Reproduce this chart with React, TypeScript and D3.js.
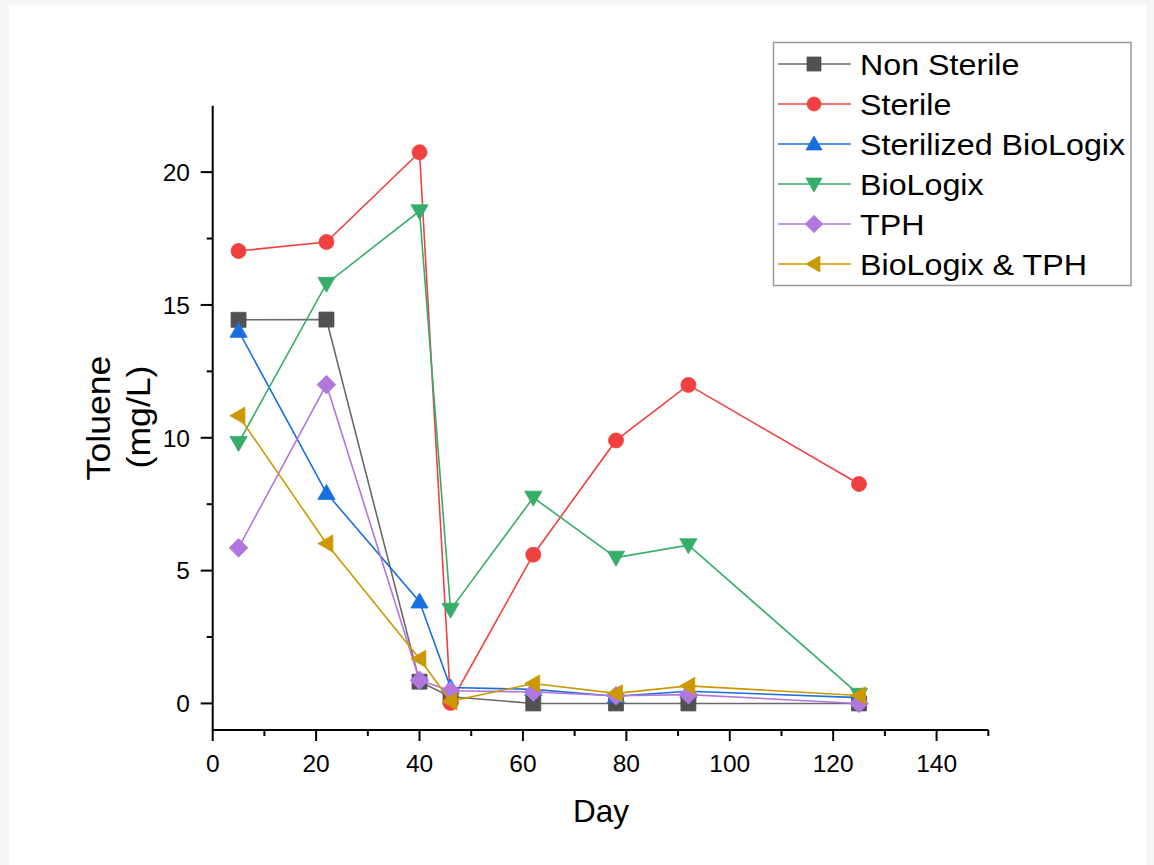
import React, { useEffect, useRef } from "react";
import * as d3 from "d3";

const days = [5, 22, 40, 46, 62, 78, 92, 125];
const seriesNames = ["Non Sterile", "Sterile", "Sterilized BioLogix", "BioLogix", "TPH", "BioLogix & TPH"];
const nonSterile = [14.44, 14.45, 0.82, 0.25, 0, 0, 0, 0];
const sterile = [17.03, 17.37, 20.75, 0.02, 5.6, 9.9, 11.99, 8.26];
const sterilizedBioLogix = [14.02, 7.92, 3.83, 0.6, 0.53, 0.27, 0.46, 0.22];
const bioLogix = [9.81, 15.8, 18.53, 3.53, 7.75, 5.49, 5.96, 0.33];
const tph = [5.86, 12.0, 0.87, 0.48, 0.43, 0.29, 0.33, 0.0];
const bioLogixTph = [10.83, 6.02, 1.68, 0.08, 0.75, 0.38, 0.66, 0.3];
const seriesValues = [nonSterile, sterile, sterilizedBioLogix, bioLogix, tph, bioLogixTph];
const colors = ["#515151", "#F14040", "#1A6FDF", "#37AD6B", "#B177DE", "#CC9900"];
const lineColors = ["#6a6a6a", "#F14040", "#1A6FDF", "#37AD6B", "#B177DE", "#CC9900"];
const shapes = ["square", "circle", "up", "down", "diamond", "left"];
const xTicks = [0, 20, 40, 60, 80, 100, 120, 140];
const yTicks = [0, 5, 10, 15, 20];

const FONT = "'Liberation Sans', Arial, sans-serif";

function markerPath(shape: string, s: number): string {
  switch (shape) {
    case "square":
      return `M${-s},${-s}L${s},${-s}L${s},${s}L${-s},${s}Z`;
    case "circle":
      return `M${-s},0A${s},${s},0,1,1,${s},0A${s},${s},0,1,1,${-s},0Z`;
    case "up":
      return `M0,${-s * 1.15}L${s * 1.15},${s * 0.85}L${-s * 1.15},${s * 0.85}Z`;
    case "down":
      return `M0,${s * 1.15}L${s * 1.15},${-s * 0.85}L${-s * 1.15},${-s * 0.85}Z`;
    case "left":
      return `M${-s * 1.15},0L${s * 0.85},${-s * 1.15}L${s * 0.85},${s * 1.15}Z`;
    case "diamond":
      return `M0,${-s * 1.25}L${s * 1.25},0L0,${s * 1.25}L${-s * 1.25},0Z`;
  }
  return "";
}

export default function App() {
  const ref = useRef<SVGSVGElement>(null);
  useEffect(() => {
    const svg = d3.select(ref.current);
    svg.selectAll("*").remove();
    const W = 1154, H = 865;
    svg.append("rect").attr("width", W).attr("height", H).attr("fill", "#f5f6f8");
    svg.append("rect").attr("x", 9).attr("y", 5).attr("width", 1137).attr("height", H).attr("fill", "#ffffff");

    const x = d3.scaleLinear().domain([0, 150]).range([212.7, 988.3]);
    const y = d3.scaleLinear().domain([-1, 22.5]).range([730, 105.7]);

    // axes
    const g = svg.append("g");
    g.append("line").attr("x1", x(0)).attr("x2", x(150)).attr("y1", y(-1)).attr("y2", y(-1))
      .attr("stroke", "#000").attr("stroke-width", 2);
    g.append("line").attr("x1", x(0)).attr("x2", x(0)).attr("y1", y(-1)).attr("y2", y(22.5))
      .attr("stroke", "#000").attr("stroke-width", 2);
    d3.range(0, 151, 10).forEach((v) => {
      const major = v % 20 === 0;
      g.append("line").attr("x1", x(v)).attr("x2", x(v)).attr("y1", y(-1)).attr("y2", y(-1) + (major ? 11 : 6))
        .attr("stroke", "#000").attr("stroke-width", 2);
    });
    xTicks.forEach((v) => {
      g.append("text").attr("x", x(v)).attr("y", 772).attr("text-anchor", "middle")
        .attr("font-family", FONT).attr("font-size", 24.5).attr("fill", "#000").text(String(v));
    });
    d3.range(0, 22.5, 2.5).forEach((v) => {
      const major = v % 5 === 0;
      g.append("line").attr("x1", x(0)).attr("x2", x(0) - (major ? 12 : 6)).attr("y1", y(v)).attr("y2", y(v))
        .attr("stroke", "#000").attr("stroke-width", 2);
    });
    yTicks.forEach((v) => {
      g.append("text").attr("x", 190).attr("y", y(v) + 8.8).attr("text-anchor", "end")
        .attr("font-family", FONT).attr("font-size", 24.5).attr("fill", "#000").text(String(v));
    });
    // titles
    g.append("text").attr("x", 601).attr("y", 822).attr("text-anchor", "middle")
      .attr("font-family", FONT).attr("font-size", 31.5).attr("fill", "#000").text("Day");
    g.append("text").attr("transform", "translate(110,418) rotate(-90) scale(1.08,1)").attr("text-anchor", "middle")
      .attr("font-family", FONT).attr("font-size", 33).attr("fill", "#000").text("Toluene");
    g.append("text").attr("transform", "translate(150,417) rotate(-90) scale(1.08,1)").attr("text-anchor", "middle")
      .attr("font-family", FONT).attr("font-size", 33).attr("fill", "#000").text("(mg/L)");

    // series
    const line = d3.line<number>().x((_, i) => x(days[i])).y((d) => y(d));
    seriesValues.forEach((vals, si) => {
      const sg = svg.append("g");
      sg.append("path").attr("d", line(vals) as string).attr("fill", "none")
        .attr("stroke", lineColors[si]).attr("stroke-width", 1.6);
      vals.forEach((v, i) => {
        sg.append("path").attr("d", markerPath(shapes[si], 7.5))
          .attr("transform", `translate(${x(days[i])},${y(v)})`)
          .attr("fill", colors[si]).attr("stroke", colors[si]).attr("stroke-width", 0.8);
      });
    });

    // legend
    const lg = svg.append("g");
    lg.append("rect").attr("x", 773.5).attr("y", 42.5).attr("width", 357.5).attr("height", 243)
      .attr("fill", "#fff").attr("stroke", "#999").attr("stroke-width", 1.5);
    seriesNames.forEach((name, i) => {
      const cy = 64 + i * 40;
      lg.append("line").attr("x1", 778).attr("x2", 851).attr("y1", cy).attr("y2", cy)
        .attr("stroke", lineColors[i]).attr("stroke-width", 1.6);
      lg.append("path").attr("d", markerPath(shapes[i], 7))
        .attr("transform", `translate(814,${cy})`).attr("fill", colors[i]).attr("stroke", colors[i]).attr("stroke-width", 0.8);
      lg.append("text").attr("transform", `translate(860,${cy + 10.5}) scale(1.075,1)`)
        .attr("font-family", FONT).attr("font-size", 30)
        .attr("fill", "#000").text(name);
    });
  }, []);
  return (
    <svg ref={ref} width={1154} height={865} style={{ position: "absolute", left: 0, top: 0, display: "block" }} />
  );
}
